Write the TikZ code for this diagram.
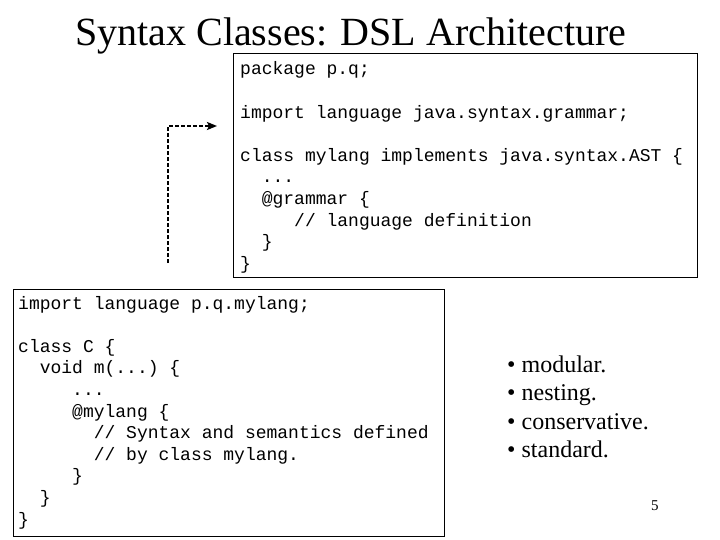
\documentclass[tikz,border=0pt]{standalone}
\usepackage{fontspec}
\setmainfont{Liberation Serif}
\setmonofont{Liberation Mono}
\usetikzlibrary{arrows.meta}
\tikzset{
  box/.style={draw=black, line width=1.2pt, fill=white, anchor=north west, inner sep=0pt},
  code/.style={anchor=base west, inner sep=0pt, font=\ttfamily\fontsize{18}{21.6}\selectfont},
  bullet/.style={anchor=base west, inner sep=0pt, font=\fontsize{24}{28.8}\selectfont},
  title/.style={anchor=base west, inner sep=0pt, font=\fontsize{40}{48}\selectfont},
  conn/.style={line width=2pt, dash pattern=on 4pt off 2pt, -{Stealth[length=10pt,width=8pt,inset=2pt]}}
}
\newcommand{\ind}[1]{\phantom{#1}}
\begin{document}
\begin{tikzpicture}[x=1pt,y=-1pt]
\useasboundingbox (0,0) rectangle (720,540);
\fill[white] (0,0) rectangle (720,540);

\node[title] (title) at (75,46) {Syntax Classes: DSL Architecture};

% top box
\node[box, minimum width=464pt, minimum height=224pt] (top) at (233,53) {};
\node[code] (t1) at (240,75.0) {package p.q;};
\node[code] (t2) at (240,118.2) {import language java.syntax.grammar;};
\node[code] (t3) at (240,161.4) {class mylang implements java.syntax.AST \{};
\node[code] (t4) at (240,183.0) {\ind{xx}...};
\node[code] (t5) at (240,204.6) {\ind{xx}@grammar \{};
\node[code] (t6) at (240,226.2) {\ind{xxxxx}// language definition};
\node[code] (t7) at (240,247.8) {\ind{xx}\}};
\node[code] (t8) at (240,269.4) {\}};

% bottom box
\node[box, minimum width=431pt, minimum height=247pt] (bot) at (13,289) {};
\node[code] (b1) at (18,309.0) {import language p.q.mylang;};
\node[code] (b2) at (18,352.2) {class C \{};
\node[code] (b3) at (18,373.8) {\ind{xx}void m(...) \{};
\node[code] (b4) at (18,395.4) {\ind{xxxxx}...};
\node[code] (b5) at (18,417.0) {\ind{xxxxx}@mylang \{};
\node[code] (b6) at (18,438.6) {\ind{xxxxxxx}// Syntax and semantics defined};
\node[code] (b7) at (18,460.2) {\ind{xxxxxxx}// by class mylang.};
\node[code] (b8) at (18,481.8) {\ind{xxxxx}\}};
\node[code] (b9) at (18,503.4) {\ind{xx}\}};
\node[code] (b10) at (18,525.0) {\}};

% dashed connector
\coordinate (a0) at (168,263);
\coordinate (a1) at (217,126);
\draw[conn] (a0) |- (a1);

% bullets
\node[bullet] (l1) at (507,372) {• modular.};
\node[bullet] (l2) at (507,400.5) {• nesting.};
\node[bullet] (l3) at (507,429) {• conservative.};
\node[bullet] (l4) at (507,457.5) {• standard.};

\node[anchor=base west, inner sep=0pt, font=\fontsize{15}{18}\selectfont] (pg) at (651,510) {5};
\end{tikzpicture}
\end{document}
